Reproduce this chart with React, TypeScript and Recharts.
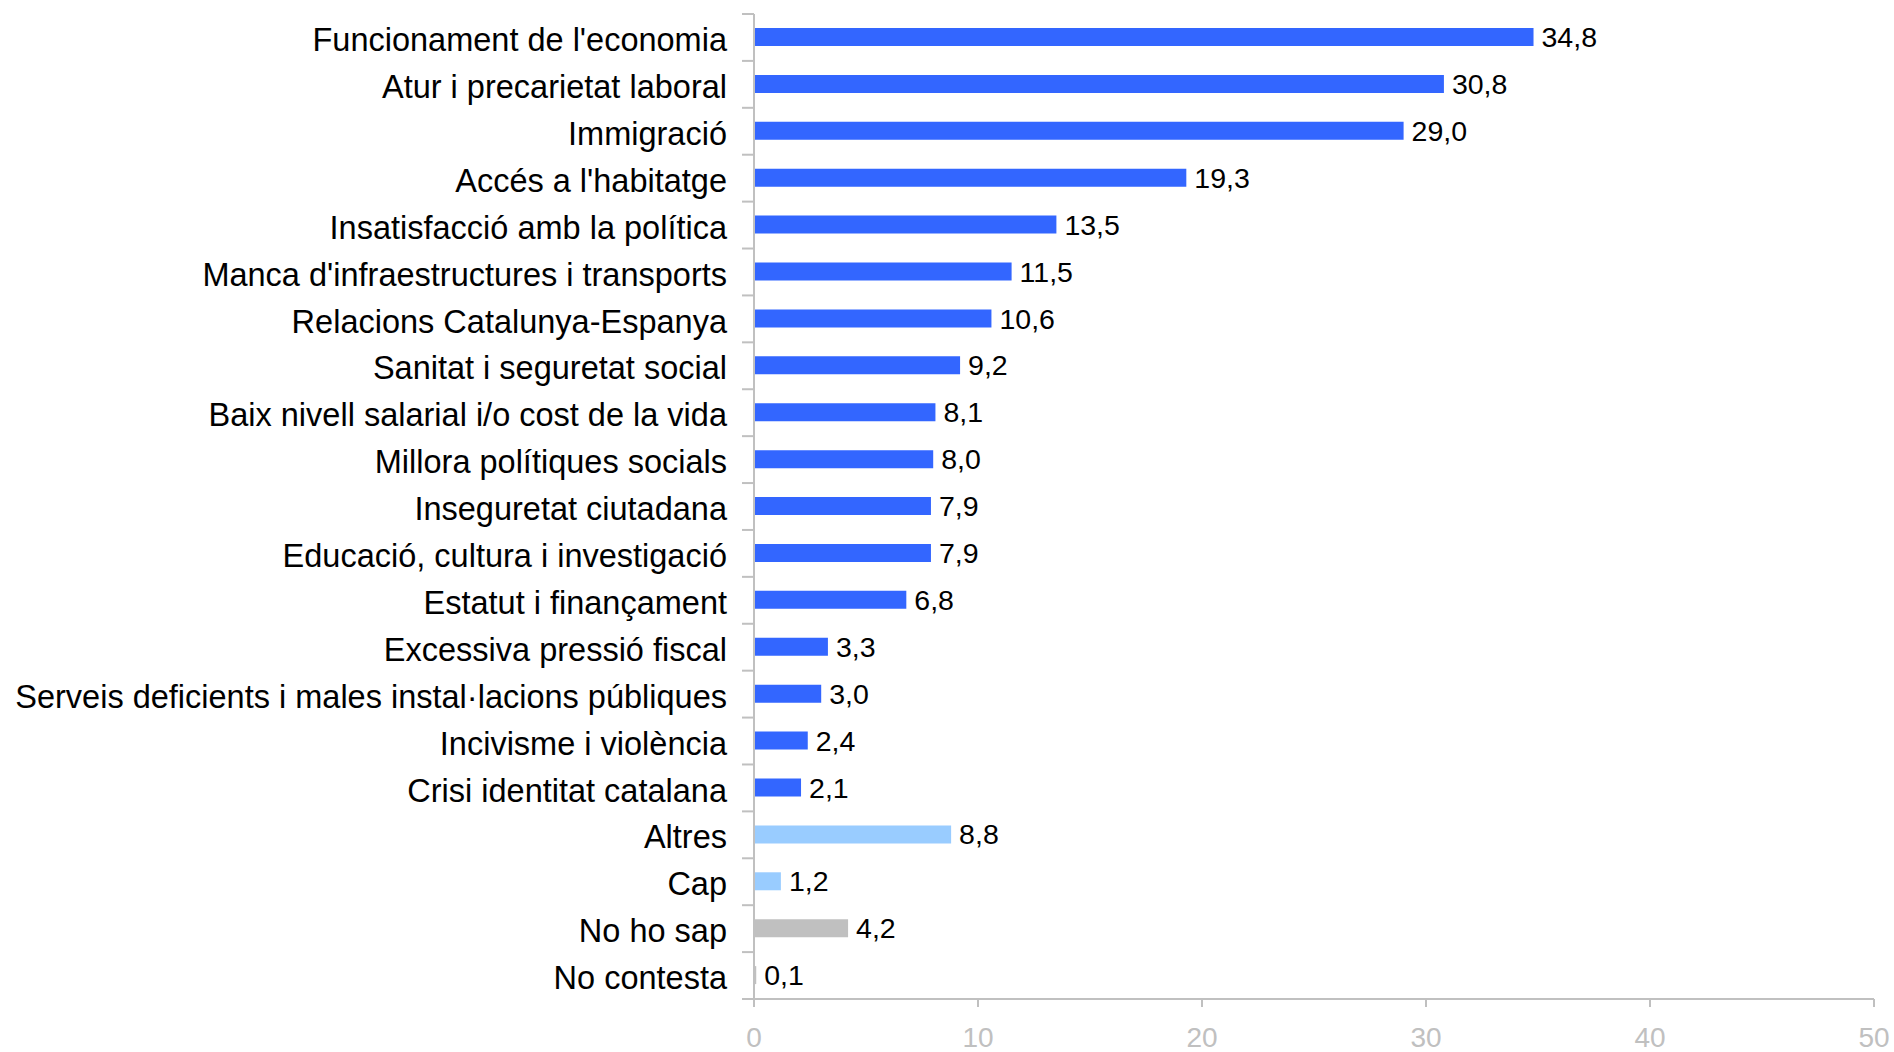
import React from "react";
import { BarChart, Bar, XAxis, YAxis, Cell, LabelList } from "recharts";

const categories = [
  "Funcionament de l'economia",
  "Atur i precarietat laboral",
  "Immigració",
  "Accés a l'habitatge",
  "Insatisfacció amb la política",
  "Manca d'infraestructures i transports",
  "Relacions Catalunya-Espanya",
  "Sanitat i seguretat social",
  "Baix nivell salarial i/o cost de la vida",
  "Millora polítiques socials",
  "Inseguretat ciutadana",
  "Educació, cultura i investigació",
  "Estatut i finançament",
  "Excessiva pressió fiscal",
  "Serveis deficients i males instal·lacions públiques",
  "Incivisme i violència",
  "Crisi identitat catalana",
  "Altres",
  "Cap",
  "No ho sap",
  "No contesta",
];

const values = [34.8, 30.8, 29.0, 19.3, 13.5, 11.5, 10.6, 9.2, 8.1, 8.0, 7.9, 7.9, 6.8, 3.3, 3.0, 2.4, 2.1, 8.8, 1.2, 4.2, 0.1];

const groups = [
  "main", "main", "main", "main", "main", "main", "main", "main", "main", "main",
  "main", "main", "main", "main", "main", "main", "main", "other", "other", "unknown", "unknown",
];

const groupColors: Record<string, string> = {
  main: "#3366FF",
  other: "#99CCFF",
  unknown: "#C0C0C0",
};

const xTicks = [0, 10, 20, 30, 40, 50];

const data = categories.map((name, i) => ({ name, value: values[i], group: groups[i] }));

const W = 1894;
const H = 1052;
const TOP = 14;
const BOTTOM = 999;
const LEFT = 754;
const RIGHT = 1874;
const BAND = (BOTTOM - TOP) / categories.length;
const FONT = "'Liberation Sans', Arial, sans-serif";
const AXIS = "#C0C0C0";

const CategoryTick = (props: any) => {
  const { x, y, payload, index } = props;
  return (
    <g>
      <line x1={LEFT - 12} x2={LEFT} y1={y - BAND / 2} y2={y - BAND / 2} stroke={AXIS} strokeWidth={2} />
      {index === categories.length - 1 && (
        <line x1={LEFT - 12} x2={LEFT} y1={y + BAND / 2} y2={y + BAND / 2} stroke={AXIS} strokeWidth={2} />
      )}
      <text
        x={x}
        y={y}
        dy="0.42em"
        textAnchor="end"
        fontFamily={FONT}
        fontSize={32.5}
        fill="#000"
      >
        {payload.value}
      </text>
    </g>
  );
};

const fmt = (v: any) => Number(v).toFixed(1).replace(".", ",");

export default function App() {
  return (
    <div style={{ position: "absolute", left: 0, top: 0, width: W, height: H, background: "#fff" }}>
      <BarChart
        width={W}
        height={H}
        data={data}
        layout="vertical"
        margin={{ top: TOP, right: W - RIGHT, left: 0, bottom: 0 }}
        barCategoryGap={0}
      >
        <XAxis
          type="number"
          domain={[0, 50]}
          ticks={xTicks}
          height={H - BOTTOM}
          axisLine={{ stroke: AXIS, strokeWidth: 2 }}
          tickLine={{ stroke: AXIS, strokeWidth: 2 }}
          tickSize={8}
          tickMargin={20}
          tick={{ fill: AXIS, fontSize: 28, fontFamily: FONT }}
          interval={0}
        />
        <YAxis
          type="category"
          dataKey="name"
          width={LEFT}
          axisLine={{ stroke: AXIS, strokeWidth: 2 }}
          tickLine={false}
          tickSize={12}
          tickMargin={15}
          tick={<CategoryTick />}
          interval={0}
        />
        <Bar dataKey="value" barSize={18} isAnimationActive={false}>
          {data.map((d, i) => (
            <Cell key={i} fill={groupColors[d.group]} />
          ))}
          <LabelList
            dataKey="value"
            position="right"
            offset={8}
            formatter={fmt}
            style={{ fill: "#000", fontSize: 28.5, fontFamily: FONT }}
          />
        </Bar>
      </BarChart>
    </div>
  );
}
